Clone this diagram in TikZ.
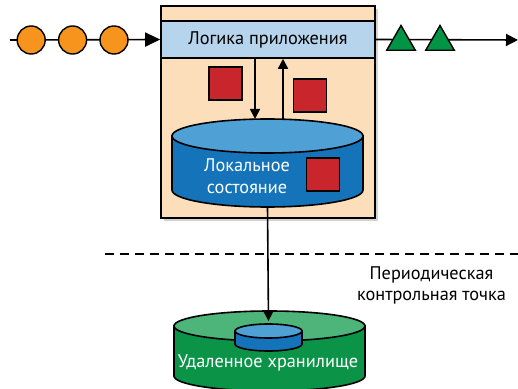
\documentclass[tikz,border=0pt]{standalone}
\usepackage{fontspec}
\setmainfont{PT Sans}
\usetikzlibrary{arrows.meta, positioning, shapes.geometric, shadows}
\definecolor{apppeach}{RGB}{252, 222, 187}
\definecolor{barblue}{RGB}{182, 213, 236}
\definecolor{evorange}{RGB}{247, 148, 30}
\definecolor{resgreen}{RGB}{0, 148, 68}
\definecolor{statered}{RGB}{200, 37, 44}
\definecolor{localtop}{RGB}{79, 160, 212}
\definecolor{localbody}{RGB}{20, 115, 185}
\definecolor{remotetop}{RGB}{77, 180, 122}
\definecolor{remotebody}{RGB}{11, 148, 72}
\tikzset{
  appbox/.style={rectangle, draw=black, line width=1.6pt, fill=apppeach,
              minimum width=214pt, minimum height=212pt,
              drop shadow={shadow xshift=3pt, shadow yshift=-3pt, fill=black!35}},
  logicbar/.style={rectangle, draw=black, line width=1.6pt, fill=barblue,
              minimum width=214pt, minimum height=37pt, font=\fontsize{18.3}{22}\selectfont},
  event/.style={circle, draw=black, line width=1.4pt, fill=evorange, minimum size=28pt, inner sep=0pt},
  result/.style={regular polygon, regular polygon sides=3, draw=black, line width=1.4pt,
              fill=resgreen, minimum size=33pt, inner sep=0pt},
  statebox/.style={rectangle, draw=black, line width=1.4pt, fill=statered, minimum size=33pt, inner sep=0pt},
  store/.style={rectangle, inner sep=0pt, outer sep=0pt},
  flow/.style={-{Triangle[length=10pt, width=10pt]}, line width=1.6pt},
  whitelabel/.style={text=white, align=center, font=\fontsize{18.3}{22}\selectfont},
}
% cylinder round a named node: name, x radius, y radius, top colour, body colour
\newcommand{\drawstore}[5]{%
  \filldraw[fill=#5, line width=1.6pt] ([yshift=-#3]#1.north west) -- ([yshift=#3]#1.south west)
    arc[start angle=180, end angle=360, x radius=#2, y radius=#3] -- ([yshift=-#3]#1.north east) -- cycle;
  \filldraw[fill=#4, line width=1.6pt] ([yshift=-#3]#1.north) ellipse[x radius=#2, y radius=#3];
}
\begin{document}
\begin{tikzpicture}[x=1pt, y=1pt]
    \useasboundingbox (0,0) rectangle (518,388);

    \node[appbox] (app) at (268,276) {};
    \node[logicbar] (logic) at (268,348.5) {Логика приложения};

    \coordinate (in) at (10,348);
    \coordinate (out) at (518,348);
    \draw[flow, -{Triangle[length=15pt, width=14pt]}] (in) -- (logic.west);
    \draw[flow, -{Triangle[length=12pt, width=12pt]}] (logic.east) -- (out);

    \node[event] (ev3) at (114,348) {};
    \node[event, left=12pt of ev3] (ev2) {};
    \node[event, left=12pt of ev2] (ev1) {};
    \node[result] (res1) at (401,346) {};
    \node[result] (res2) at (440,346) {};

    \node[statebox] (sq1) at (225.5,304.5) {};
    \node[statebox] (sq2) at (310,292.5) {};

    % local state
    \node[store, minimum width=191pt, minimum height=88pt] (local) at (267.5,225) {};
    \drawstore{local}{95.5pt}{17pt}{localtop}{localbody}
    \node[whitelabel] (locallabel) at (247,211.5) {Локальное\\состояние};
    \node[statebox] (sq3) at (323,213.5) {};

    \draw[flow] ([xshift=-13pt]logic.south) -- ([xshift=-13pt]logic.south |- local.north);
    \draw[flow] ([xshift=15pt]logic.south |- local.north) -- ([xshift=15pt]logic.south);

    \draw[dash pattern=on 9pt off 6pt, line width=1.6pt] (105,134) -- (518,134);
    \node[align=center, font=\fontsize{18.3}{21}\selectfont] (ckpt) at (431.5,103) {Периодическая\\контрольная точка};

    % remote storage
    \node[store, minimum width=191pt, minimum height=80pt] (remote) at (269.5,37) {};
    \drawstore{remote}{95.5pt}{15pt}{remotetop}{remotebody}
    \node[store, minimum width=67pt, minimum height=27pt] (small) at (268.5,50.5) {};
    \drawstore{small}{33.5pt}{7pt}{localtop}{localbody}
    \node[whitelabel] (remotelabel) at (268,25) {Удаленное хранилище};

    \draw[flow, shorten >=3pt] (local.south) -- (small.north);
  \end{tikzpicture}
\end{document}
